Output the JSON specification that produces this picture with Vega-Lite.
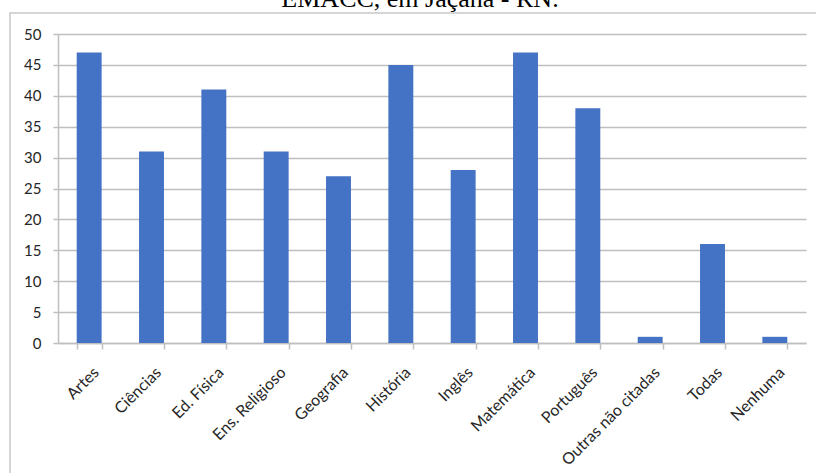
{
  "$schema": "https://vega.github.io/schema/vega-lite/v6.json",
  "autosize": "none",
  "width": 820,
  "height": 480,
  "padding": {"left": 10, "top": 13, "right": 0, "bottom": 0},
  "background": "white",
  "title": {
    "text": "EMACC, em Jaçanã - RN.",
    "font": "Liberation Serif",
    "fontSize": 26,
    "fontWeight": "normal",
    "color": "#000000",
    "anchor": "middle",
    "baseline": "alphabetic",
    "offset": -20
  },
  "config": {
    "view": {"stroke": "#c8c8c8", "strokeWidth": 1.5},
    "axis": {
      "labelFont": "Lato",
      "labelFontSize": 15,
      "labelColor": "#262626",
      "domainColor": "#bfbfbf",
      "tickColor": "#bfbfbf",
      "gridColor": "#bfbfbf",
      "domainWidth": 1.5,
      "tickWidth": 1.5,
      "gridWidth": 1.5,
      "title": null
    }
  },
  "data": {
    "values": [
      {"disciplina": "Artes", "total": 47},
      {"disciplina": "Ciências", "total": 31},
      {"disciplina": "Ed. Física", "total": 41},
      {"disciplina": "Ens. Religioso", "total": 31},
      {"disciplina": "Geografia", "total": 27},
      {"disciplina": "História", "total": 45},
      {"disciplina": "Inglês", "total": 28},
      {"disciplina": "Matemática", "total": 47},
      {"disciplina": "Português", "total": 38},
      {"disciplina": "Outras não citadas", "total": 1},
      {"disciplina": "Todas", "total": 16},
      {"disciplina": "Nenhuma", "total": 1}
    ]
  },
  "mark": {"type": "bar", "color": "#4472C4"},
  "encoding": {
    "x": {
      "field": "disciplina",
      "type": "nominal",
      "sort": null,
      "scale": {"range": [48, 796], "paddingInner": 0.6, "paddingOuter": 0.3},
      "axis": {
        "labelAngle": -45,
        "labelAlign": "right",
        "labelBaseline": "top",
        "labelFontSize": 16,
        "labelOffset": 1,
        "tickBand": "extent",
        "tickSize": 6,
        "labelPadding": 15,
        "offset": -150,
        "grid": false
      }
    },
    "y": {
      "field": "total",
      "type": "quantitative",
      "scale": {"domain": [0, 50], "range": [330, 21], "nice": false},
      "axis": {
        "values": [0, 5, 10, 15, 20, 25, 30, 35, 40, 45, 50],
        "tickSize": 5,
        "labelPadding": 12,
        "offset": -48,
        "grid": true
      }
    }
  }
}
